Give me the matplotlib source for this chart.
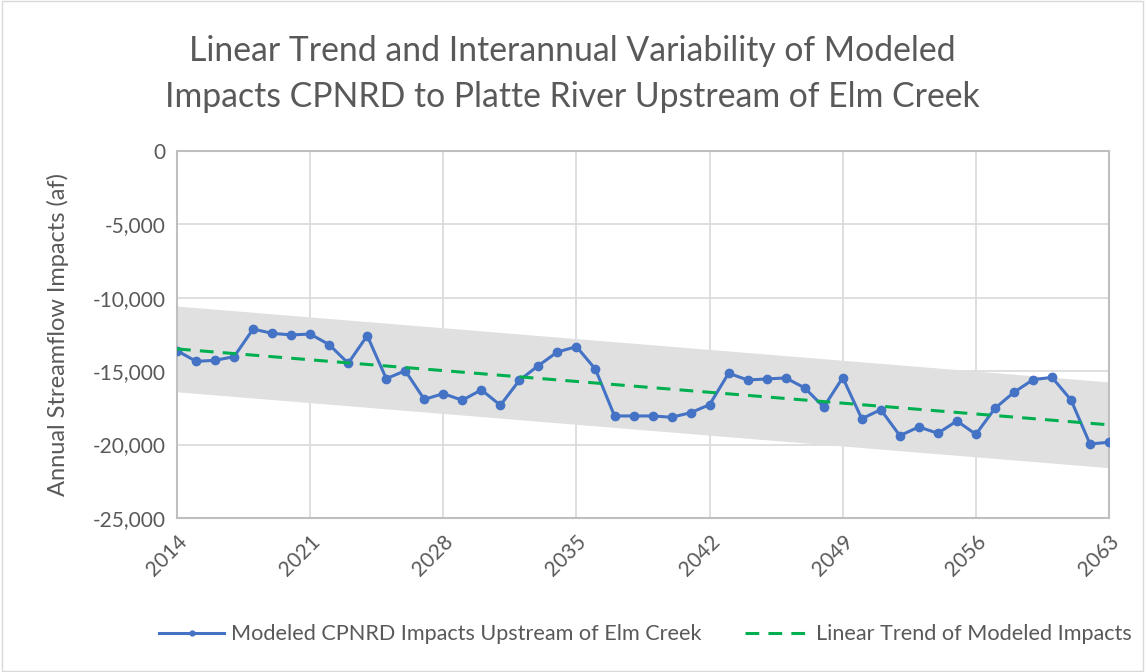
import numpy as np
import matplotlib
matplotlib.use("Agg")
import matplotlib.pyplot as plt
from matplotlib.patches import Rectangle

plt.rcParams['font.family'] = ['Lato', 'DejaVu Sans']

years = list(range(2014, 2064))
impacts = [
    -13600, -14330, -14260, -14010, -12130, -12420, -12530, -12470, -13190, -14460,
    -12580, -15510, -14970, -16920, -16530, -16980, -16270, -17320, -15620, -14620,
    -13690, -13330, -14870, -18050, -18050, -18050, -18140, -17830, -17280, -15140,
    -15600, -15530, -15460, -16140, -17440, -15440, -18240, -17620, -19390, -18800,
    -19230, -18390, -19300, -17530, -16440, -15580, -15420, -16960, -19960, -19840,
]
band_halfwidth = 2920
xtick_years = [2014, 2021, 2028, 2035, 2042, 2049, 2056, 2063]
yticks = [0, -5000, -10000, -15000, -20000, -25000]

title = "Linear Trend and Interannual Variability of Modeled\nImpacts CPNRD to Platte River Upstream of Elm Creek"
ylabel = "Annual Streamflow Impacts (af)"
label_series = "Modeled CPNRD Impacts Upstream of Elm Creek"
label_trend = "Linear Trend of Modeled Impacts"

TEXT = "#595959"
BLUE = "#4472C4"
GREEN = "#00B050"
GRID = "#D9D9D9"

x = np.array(years, dtype=float)
y = np.array(impacts, dtype=float)
slope, intercept = np.polyfit(x, y, 1)
trend = slope * x + intercept

fig = plt.figure(figsize=(11.45, 6.72), dpi=100)
fig.patches.append(Rectangle((0.002, 0.002), 0.996, 0.996, transform=fig.transFigure,
                             fill=False, edgecolor="#D9D9D9", linewidth=1.0))
ax = fig.add_axes([0.1546, 0.2292, 0.8140, 0.5461])

ax.fill_between(x, trend - band_halfwidth, trend + band_halfwidth,
                color="#E0E0E0", linewidth=0, zorder=1)
ax.plot(x, y, color=BLUE, linewidth=2.2, marker='o', markersize=6,
        label=label_series, zorder=3)
ax.plot(x, trend, color=GREEN, linewidth=2.2, linestyle=(0, (4.5, 3.0)),
        label=label_trend, zorder=4)

ax.set_xlim(2014, 2063)
ax.set_ylim(-25000, 0)
ax.set_xticks(xtick_years)
ax.set_xticklabels([str(v) for v in xtick_years], rotation=45, ha='right',
                   rotation_mode='anchor', fontsize=15, color=TEXT)
ax.set_yticks(yticks)
ax.set_yticklabels([f"{v:,}" for v in yticks], fontsize=15, color=TEXT)
ax.tick_params(axis='both', length=0, pad=8)
ax.tick_params(axis='x', pad=10)
ax.grid(True, color=GRID, linewidth=1.2, zorder=0)
ax.set_axisbelow(True)
for s in ax.spines.values():
    s.set_color("#BFBFBF")
    s.set_linewidth(1.5)

ax.set_ylabel(ylabel, fontsize=17, color=TEXT, labelpad=17)
fig.text(0.5, 0.890, title, ha='center', va='center', fontsize=24.3, color=TEXT,
         linespacing=1.55)

leg = fig.legend(loc='center', bbox_to_anchor=(0.564, 0.056), ncol=2, frameon=False,
                 fontsize=15.6, handlelength=3.0, columnspacing=2.0, handletextpad=0.3)
for t in leg.get_texts():
    t.set_color(TEXT)
for h in leg.legend_handles:
    h.set_markersize(3.5)

fig.savefig("out.png", dpi=100)
